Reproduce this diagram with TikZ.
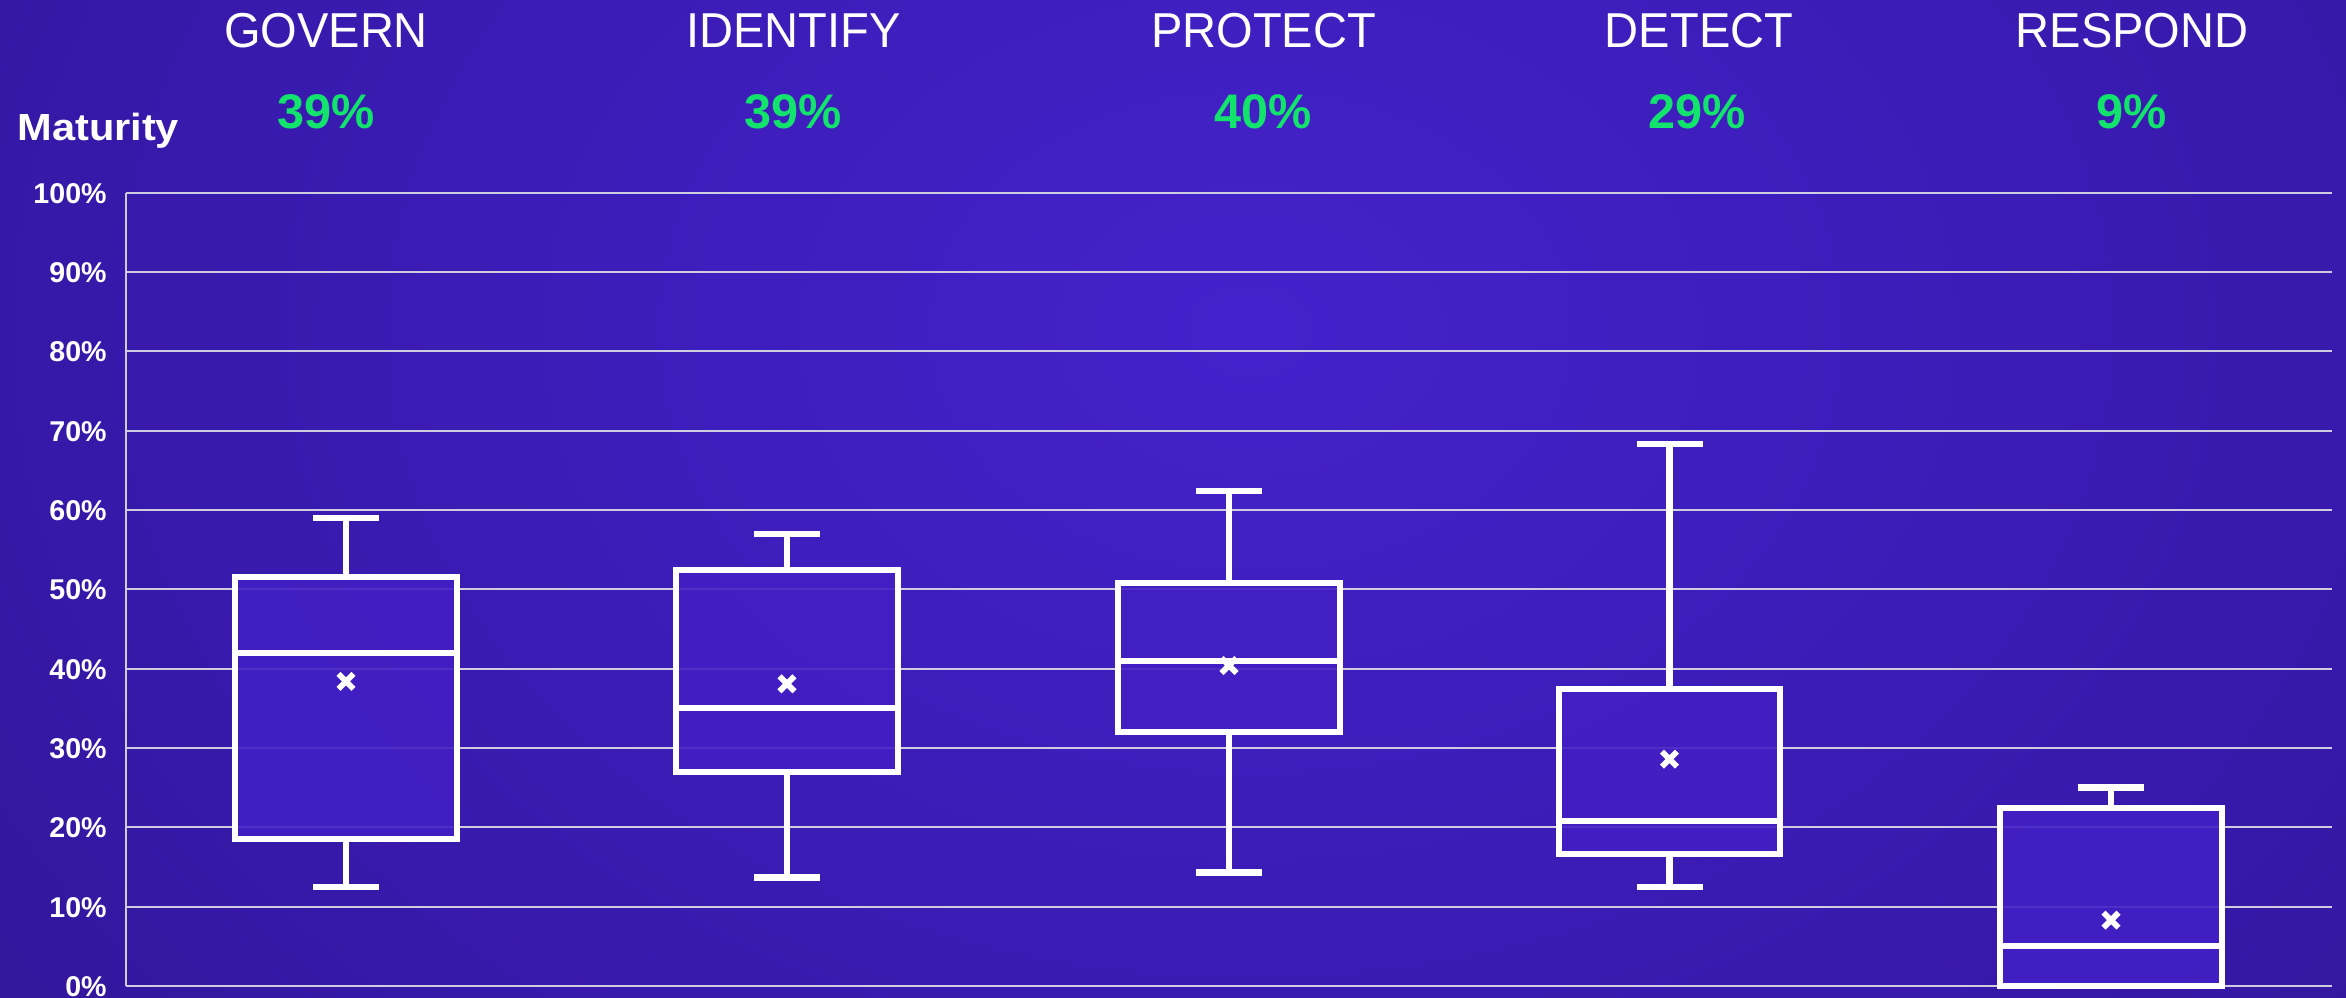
\documentclass[tikz,border=0pt]{standalone}
\usepackage{fontspec}
\setmainfont{Liberation Sans}
\newfontfamily\titlefont[FakeStretch=0.96]{Liberation Sans}
\newfontfamily\pctfont{Liberation Sans}
\newfontfamily\matfont[FakeStretch=1.1]{Liberation Sans}
\definecolor{bgA}{HTML}{4422CC}
\definecolor{bgB}{HTML}{3719AA}
\definecolor{bgC}{HTML}{250F6C}
\definecolor{boxfill}{HTML}{431FC4}
\definecolor{gridc}{HTML}{CFCBE0}
\definecolor{pctgreen}{HTML}{12E36C}
\pgfdeclareradialshading{bgshade}{\pgfpoint{0bp}{0bp}}{color(0bp)=(bgA); color(18bp)=(bgB); color(44bp)=(bgC); color(50bp)=(bgC)}
\tikzset{
  gridline/.style={draw=gridc, line width=1pt},
  bxbody/.style={draw=white, line width=3pt, fill=boxfill, fill opacity=0.9},
  bxline/.style={draw=white, line width=3pt},
  whisk/.style={draw=white, line width=3.2pt},
  meanmark/.style={draw=white, line width=2.9pt},
  cattitle/.style={text=white, anchor=base, inner sep=0pt, font=\titlefont\fontsize{24.5}{28}\selectfont},
  catpct/.style={text=pctgreen, anchor=base, inner sep=0pt, font=\pctfont\bfseries\fontsize{24.3}{28}\selectfont},
  ticklab/.style={text=white, anchor=base east, inner sep=0pt, font=\bfseries\fontsize{14.3}{16}\selectfont},
}
\newcommand{\bxplot}[7]{%
  \pgfmathsetmacro{\ymin}{986-7.933*#2}%
  \pgfmathsetmacro{\yqa}{986-7.933*#3}%
  \pgfmathsetmacro{\ymed}{986-7.933*#4}%
  \pgfmathsetmacro{\yqc}{986-7.933*#5}%
  \pgfmathsetmacro{\ymax}{986-7.933*#6}%
  \pgfmathsetmacro{\ymean}{986-7.933*#7}%
  \draw[whisk] (#1,\yqa) -- (#1,\ymin);
  \draw[whisk] (#1-33,\ymin) -- (#1+33,\ymin);
  \draw[whisk] (#1,\yqc) -- (#1,\ymax);
  \draw[whisk] (#1-33,\ymax) -- (#1+33,\ymax);
  \path[bxbody] (#1-110.75,\yqa) rectangle (#1+110.75,\yqc);
  \draw[bxline] (#1-110.75,\ymed) -- (#1+110.75,\ymed);
  \draw[meanmark] (#1-7.5,\ymean-7.5) -- (#1+7.5,\ymean+7.5) (#1-7.5,\ymean+7.5) -- (#1+7.5,\ymean-7.5);
}
\begin{document}
\begin{tikzpicture}[x=0.5pt,y=-0.5pt]
\useasboundingbox (0,0) rectangle (2346,997);
\begin{scope}
\clip (0,0) rectangle (2346,997);
\fill[bgC] (0,0) rectangle (2346,997);
\shade[shading=bgshade] (1250,330) ellipse (1600 and 1200);
\end{scope}
% grid
\foreach \k/\lab in {0/0,1/10,2/20,3/30,4/40,5/50,6/60,7/70,8/80,9/90,10/100}{
  \draw[gridline] (126,{986-79.33*\k}) -- (2332,{986-79.33*\k});
  \node[ticklab] (tick\k) at (107,{986-79.33*\k+10.5}) {\lab\%};
}
\draw[gridline] (126,192.7) -- (126,986);
% titles
\node[text=white, anchor=base west, inner sep=0pt, font=\matfont\bfseries\fontsize{18.9}{22}\selectfont] (mat) at (17,140) {Maturity};
\node[cattitle] (gov) at (326,47.7) {GOVERN};
\node[cattitle] (idf) at (793.5,47.7) {IDENTIFY};
\node[cattitle] (pro) at (1263.5,47.7) {PROTECT};
\node[cattitle] (det) at (1699,47.7) {DETECT};
\node[cattitle] (res) at (2132,47.7) {RESPOND};
\node[catpct] (govp) at (326,128.3) {39\%};
\node[catpct] (idfp) at (793.5,128.3) {39\%};
\node[catpct] (prop) at (1263.5,128.3) {40\%};
\node[catpct] (detp) at (1697,128.3) {29\%};
\node[catpct] (resp) at (2132,128.3) {9\%};
% boxes
\bxplot{346}{12.5}{18.5}{42.0}{51.5}{59.0}{38.4}
\bxplot{787}{13.7}{27.0}{35.0}{52.4}{57.0}{38.1}
\bxplot{1229}{14.3}{32.0}{41.0}{50.8}{62.4}{40.4}
\bxplot{1669.5}{12.5}{16.6}{20.8}{37.5}{68.3}{28.6}
\bxplot{2111}{0}{0}{5.0}{22.5}{25.0}{8.3}
\end{tikzpicture}
\end{document}
